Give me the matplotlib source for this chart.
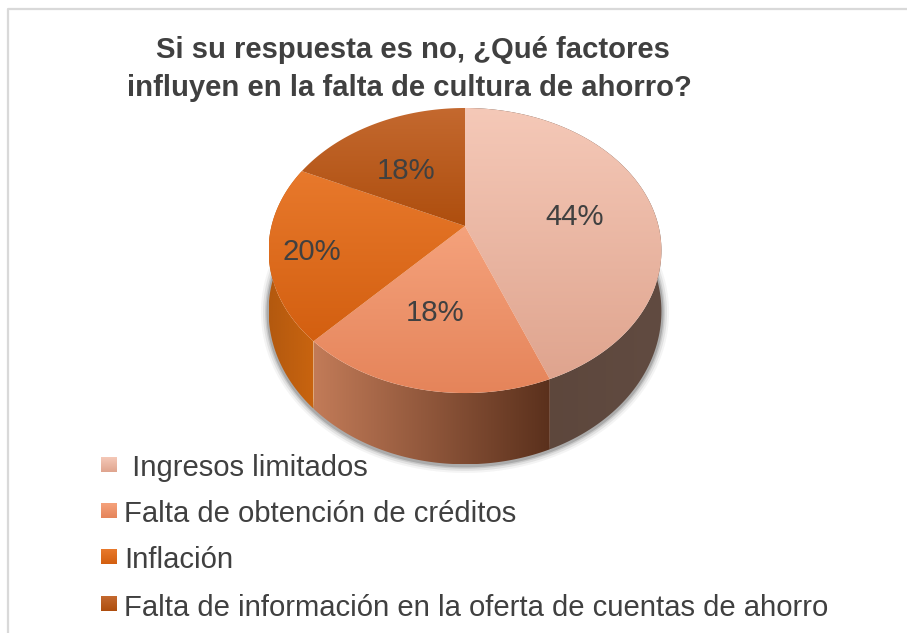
import numpy as np
from matplotlib import pyplot as plt
from matplotlib.patches import Polygon
from matplotlib.colors import LinearSegmentedColormap

plt.rcParams['font.family'] = ['Liberation Sans', 'DejaVu Sans']

title_lines = ["Si su respuesta es no, ¿Qué factores",
               "influyen en la falta de cultura de ahorro?"]
categories = [" Ingresos limitados", "Falta de obtención de créditos", "Inflación",
              "Falta de información en la oferta de cuentas de ahorro"]
values = [44, 18, 20, 18]
label_texts = ["44%", "18%", "20%", "18%"]

# gradient colours per slice, top to bottom
top_colors = [("#f5c9b8", "#dfa48e"), ("#f5a27c", "#e5845a"),
              ("#e8792c", "#d35f10"), ("#c4692f", "#ae4e0e")]
side_colors = [("#5a4439", "#614b41"), ("#c27b58", "#5a301c"),
               ("#b3590f", "#c9640f"), ("#8a4a20", "#8a4a20")]

# where the percent labels sit, in pixels
label_x = [575, 406, 312, 435]
label_y = [217, 171, 252, 313]

# pie geometry in pixels, small perspective so the near side looks larger
cx, cy = 465, 226
rx, ry = 193.5, 138.3
persp = 0.172
depth = 59

text_col = "#404040"

fig = plt.figure(figsize=(9.07, 6.33), dpi=100)
ax = fig.add_axes([0, 0, 1, 1])
ax.set_xlim(0, 907)
ax.set_ylim(633, 0)
ax.axis("off")

# chart frame, only left and top are in view
ax.plot([8, 8, 907], [633, 9, 9], color="#d9d9d9", lw=1.6, zorder=1)


def project(deg, r=1.0, drop=0.0):
    # deg is clockwise from the top of the pie
    a = np.radians(deg)
    x = r * np.sin(a)
    y = r * np.cos(a)
    f = 1 / (1 + persp * y)
    return cx + rx * x * f, cy - ry * y * f + drop * f


def gradient_fill(poly, c1, c2, vertical=True, zorder=3):
    cmap = LinearSegmentedColormap.from_list("g", [c1, c2])
    ramp = np.linspace(0, 1, 256)
    ramp = ramp.reshape(-1, 1) if vertical else ramp.reshape(1, -1)
    x0, y0 = poly.min(axis=0)
    x1, y1 = poly.max(axis=0)
    im = ax.imshow(ramp, cmap=cmap, extent=[x0, x1, y1, y0], aspect="auto",
                   interpolation="bilinear", zorder=zorder)
    patch = Polygon(poly, closed=True, transform=ax.transData, fc="none", ec="none")
    ax.add_patch(patch)
    im.set_clip_path(patch)


edges = np.concatenate([[0], np.cumsum(values)]) * 360 / sum(values)

# soft shadow under the pie
ring = np.linspace(0, 360, 240)
sx, sy = project(ring, drop=depth)
for lw, al in zip([11, 8, 5, 3], [0.05, 0.09, 0.13, 0.20]):
    ax.plot(sx, sy + 1, color="#303030", lw=lw, alpha=al, zorder=2, solid_capstyle="round")

# side walls, left one first so the front slice sits on top
for i in [0, 2, 1]:
    arc = np.linspace(edges[i], edges[i + 1], 120)
    tx, ty = project(arc)
    bx, by = project(arc, drop=depth)
    poly = np.vstack([np.column_stack([tx, ty]), np.column_stack([bx, by])[::-1]])
    gradient_fill(poly, side_colors[i][0], side_colors[i][1], vertical=False, zorder=3)

# top faces
for i in range(len(values)):
    arc = np.linspace(edges[i], edges[i + 1], 120)
    tx, ty = project(arc)
    poly = np.vstack([[cx, cy], np.column_stack([tx, ty])])
    gradient_fill(poly, top_colors[i][0], top_colors[i][1], zorder=4)

# percent labels
for lx, ly, txt in zip(label_x, label_y, label_texts):
    ax.text(lx, ly, txt, fontsize=21.2, color=text_col, ha="center", va="center", zorder=6)

# title
title_y = [50, 88]
title_x = [413, 409]
for line, tx, ty in zip(title_lines, title_x, title_y):
    ax.text(tx, ty, line, fontsize=21.1, fontweight="bold", color=text_col,
            ha="center", va="center", zorder=6)

# legend
legend_y = [465, 511, 557, 604]
for name, ly, cols in zip(categories, legend_y, top_colors):
    box = np.array([[101, ly - 8], [117, ly - 8], [117, ly + 7], [101, ly + 7]])
    gradient_fill(box, cols[0], cols[1], zorder=5)
    ax.text(124, ly + 3.5, name, fontsize=21.1, color=text_col, ha="left", va="center", zorder=6)

ax.set_xlim(0, 907)
ax.set_ylim(633, 0)
fig.savefig("out.png", dpi=100)
